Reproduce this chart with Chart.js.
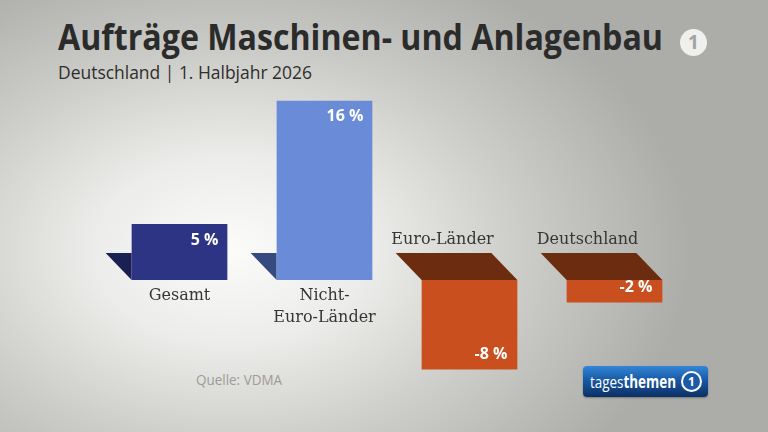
<!DOCTYPE html>
<html>
<head>
<meta charset="utf-8">
<script src="https://cdn.jsdelivr.net/npm/chart.js@4.4.1/dist/chart.umd.min.js"></script>
<style>
    html, body { margin: 0; padding: 0; }
    body {
        width: 768px; height: 432px; overflow: hidden; position: relative;
        background: radial-gradient(ellipse 60% 72% at 30% 58%, #fbfbf9 0%, #ececea 30%, #cdcdc9 62%, #acaca8 100%);
        font-family: "Open Sans", sans-serif;
    }
    #wrap { position: absolute; left: 0; top: 0; width: 768px; height: 432px; }
    .txt { position: absolute; white-space: nowrap; transform-origin: 0 0; }
    #title { left: 58px; top: 19px; font-size: 35px; line-height: 35px; font-weight: 700; color: #2b2b2b; }
    #sub { left: 58px; top: 63px; font-size: 18px; line-height: 18px; color: #2e2e2e; }
    #src { left: 196px; top: 373px; font-size: 14px; line-height: 14px; color: #9c9c98; }
    #ard {
        position: absolute; left: 680px; top: 29px; width: 27px; height: 27px; border-radius: 50%;
        background: #efefed; color: #a3a39f; font: 700 19px/27px "Open Sans", sans-serif; text-align: center;
    }
    #tt {
        position: absolute; left: 583px; top: 366px; width: 125px; height: 31px; border-radius: 4px;
        background: linear-gradient(#3286d6 0%, #1859a6 45%, #0c2f62 100%);
        box-shadow: 0 1px 2px rgba(0,0,0,0.3);
        color: #fff; font: 17px/31px "Open Sans", sans-serif;
    }
    #tt .w { position: absolute; left: 7px; top: 0; transform-origin: 0 50%; }
    #tt .one {
        position: absolute; left: 98px; top: 5px; width: 17px; height: 17px; border: 2px solid #fff; border-radius: 50%;
        font: 700 12px/17px "Open Sans", sans-serif; text-align: center; color: #fff; background: #1a5aa8;
    }
</style>
</head>
<body>
<div class="txt" id="title">Aufträge Maschinen- und Anlagenbau</div>
<div class="txt" id="sub">Deutschland | 1. Halbjahr 2026</div>
<div class="txt" id="src">Quelle: VDMA</div>
<div id="ard">1</div>
<div id="tt"><span class="w">tages<b>themen</b></span><span class="one">1</span></div>
<div id="wrap"><canvas id="myChart" width="768" height="432"></canvas></div>
<script>
const categories = [
    "Gesamt",
    ["Nicht-", "Euro-Länder"],
    "Euro-Länder",
    "Deutschland",
];

const values = [5, 16, -8, -2];

const barColors = ['#2c3483', '#6a8bd7', '#c94f1f', '#c94f1f'];
const depthColors = ['#1b2052', '#364a80', '#6c2c10', '#6c2c10'];

// squeeze the html texts to the width they have in the picture
function fitWidth(el, target) {
    const w = el.getBoundingClientRect().width;
    el.style.transform = 'scaleX(' + (target / w) + ')';
}
fitWidth(document.getElementById('title'), 605);
fitWidth(document.getElementById('sub'), 254);
fitWidth(document.getElementById('src'), 86);
fitWidth(document.querySelector('#tt .w'), 86);

const DEPTH_X = 26;
const DEPTH_Y = 27;

// 3d-ish faces plus the labels, drawn from the bar elements
const barDecor = {
    id: 'barDecor',
    beforeDatasetsDraw(chart) {
        const c = chart.ctx;
        const meta = chart.getDatasetMeta(0);
        meta.data.forEach((bar, i) => {
            const p = bar.getProps(['x', 'y', 'base', 'width'], true);
            const left = p.x - p.width / 2;
            const right = p.x + p.width / 2;
            c.save();
            c.fillStyle = depthColors[i];
            c.beginPath();
            if (values[i] >= 0) {
                c.moveTo(left - DEPTH_X, p.base - DEPTH_Y);
                c.lineTo(left, p.base - DEPTH_Y);
                c.lineTo(left, p.base);
            } else {
                c.moveTo(left - DEPTH_X, p.base - DEPTH_Y);
                c.lineTo(right - DEPTH_X, p.base - DEPTH_Y);
                c.lineTo(right, p.base);
                c.lineTo(left, p.base);
            }
            c.closePath();
            c.fill();
            c.restore();
        });
    },
    afterDatasetsDraw(chart) {
        const c = chart.ctx;
        const meta = chart.getDatasetMeta(0);
        meta.data.forEach((bar, i) => {
            const p = bar.getProps(['x', 'y', 'base', 'width'], true);
            const right = p.x + p.width / 2;
            const v = values[i];
            c.save();
            c.fillStyle = '#ffffff';
            c.font = 'bold 16px "Open Sans"';
            c.textAlign = 'right';
            c.textBaseline = 'middle';
            const txt = v + ' %';
            if (v >= 0) c.fillText(txt, right - 9, p.y + 16);
            else c.fillText(txt, right - 10, p.y - 15);

            c.fillStyle = '#363636';
            c.font = '16px "DejaVu Serif"';
            c.textAlign = 'center';
            const lines = [].concat(categories[i]);
            if (v >= 0) {
                lines.forEach((l, k) => c.fillText(l, p.x, p.base + 16 + k * 22));
            } else {
                c.fillText(lines[0], p.x - DEPTH_X - 1, p.base - DEPTH_Y - 13);
            }
            c.restore();
        });
    }
};

const data = {
    labels: categories,
    datasets: [{
        data: values,
        backgroundColor: barColors,
        borderWidth: 0,
        barPercentage: 0.66,
        categoryPercentage: 1,
    }],
};

const config = {
    type: 'bar',
    data: data,
    plugins: [barDecor],
    options: {
        responsive: false,
        animation: false,
        layout: {
            padding: { left: 107, right: 81, top: 89.6, bottom: 51.2 },
        },
        scales: {
            x: { display: false },
            y: { display: false, min: -9, max: 17 },
        },
        plugins: {
            legend: { display: false },
            tooltip: { enabled: false },
        },
    },
};

const ctx = document.getElementById("myChart").getContext("2d");
const myChart = new Chart(ctx, config);
</script>
</body>
</html>
